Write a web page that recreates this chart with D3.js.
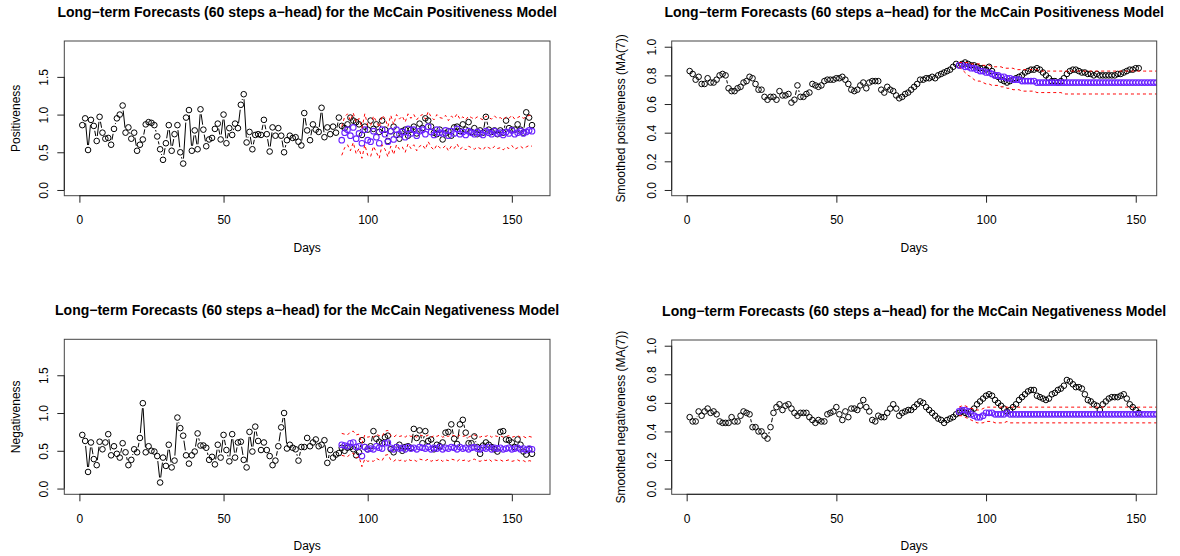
<!DOCTYPE html>
<html>
<head>
<meta charset="utf-8">
<script src="https://cdn.jsdelivr.net/npm/d3@7"></script>
<style>
  html, body { margin: 0; padding: 0; background: #fff; }
  svg { display: block; font-family: "Liberation Sans", Arial, Helvetica, sans-serif; }
</style>
</head>
<body>
<div id="chart"></div>
<script>
// ---- data ----
const posObs = [
  0.86,0.95,0.53,0.93,0.85,0.65,0.97,0.76,0.68,0.69,
  0.60,0.81,0.95,1.00,1.12,0.76,0.83,0.68,0.76,0.52,
  0.60,0.67,0.87,0.90,0.89,0.86,0.71,0.54,0.40,0.62,
  0.86,0.52,0.74,0.86,0.50,0.35,0.96,1.06,0.52,0.79,
  0.54,1.07,0.80,0.58,0.67,0.69,0.81,0.88,0.67,1.00,
  0.62,0.82,0.73,0.88,0.82,1.13,1.27,0.63,0.77,0.54,
  0.73,0.74,0.73,0.93,0.74,0.51,0.83,0.72,0.82,0.72,
  0.50,0.66,0.72,0.69,0.70,0.64,0.59,1.02,0.79,0.66,
  0.87,0.80,0.77,1.09,0.70,0.83,0.74,0.84,0.76,0.96,
  0.85,0.82,0.87,0.96,0.92,0.90,0.87,0.73,0.84,0.80,
  0.92,0.81,0.87,0.77,0.92,0.80,0.65,0.78,0.84,0.73,
  0.68,0.78,0.80,0.72,0.80,0.84,0.75,0.88,0.82,0.95,
  0.92,0.84,0.76,0.74,0.80,0.67,0.75,0.78,0.72,0.83,
  0.84,0.78,0.87,0.80,0.90,0.77,0.82,0.74,0.79,0.76,
  0.97,0.80,0.77,0.79,0.74,0.79,0.76,0.92,0.82,0.80,
  0.80,0.87,0.80,0.76,1.03,0.96,0.86
];
const posFc = [
  0.66,0.76,0.80,0.72,0.83,0.68,0.75,0.62,0.80,0.66,
  0.64,0.78,0.70,0.62,0.80,0.74,0.64,0.78,0.67,0.80,
  0.74,0.77,0.70,0.81,0.75,0.80,0.72,0.78,0.80,0.74,
  0.84,0.77,0.73,0.80,0.76,0.75,0.79,0.72,0.78,0.75,
  0.81,0.74,0.77,0.73,0.78,0.76,0.74,0.77,0.75,0.73,
  0.78,0.76,0.74,0.78,0.75,0.76,0.73,0.77,0.75,0.79,
  0.74,0.76,0.78,0.75,0.77,0.79,0.78
];
const posUp = [
  0.84,0.97,1.01,0.92,1.02,0.90,0.95,0.82,1.01,0.86,
  0.85,0.98,0.91,0.83,0.99,0.95,0.84,0.99,0.87,1.00,
  0.94,0.98,0.90,1.01,0.95,1.00,0.93,0.98,1.00,0.94,
  1.04,0.97,0.93,1.00,0.96,0.95,0.99,0.92,0.98,0.95,
  1.01,0.94,0.97,0.93,0.98,0.96,0.94,0.97,0.95,0.93,
  0.98,0.96,0.94,0.98,0.95,0.96,0.93,0.97,0.95,0.99,
  0.94,0.96,0.98,0.95,0.97,0.99,0.98
];
const posLo = [
  0.46,0.56,0.60,0.52,0.63,0.48,0.55,0.42,0.60,0.46,
  0.44,0.58,0.50,0.42,0.60,0.54,0.44,0.58,0.47,0.60,
  0.54,0.57,0.50,0.61,0.55,0.60,0.52,0.58,0.60,0.54,
  0.64,0.57,0.53,0.60,0.56,0.55,0.59,0.52,0.58,0.55,
  0.61,0.54,0.57,0.53,0.58,0.56,0.54,0.57,0.55,0.53,
  0.58,0.56,0.54,0.58,0.55,0.56,0.53,0.57,0.55,0.59,
  0.54,0.56,0.58,0.55,0.57,0.59,0.58
];

const negObs = [
  0.71,0.63,0.22,0.61,0.39,0.31,0.62,0.52,0.61,0.72,
  0.44,0.56,0.46,0.41,0.60,0.48,0.31,0.38,0.52,0.48,
  0.67,1.13,0.48,0.56,0.50,0.49,0.43,0.08,0.41,0.30,
  0.58,0.28,0.37,0.94,0.80,0.70,0.44,0.33,0.44,0.49,
  0.73,0.57,0.57,0.54,0.38,0.42,0.32,0.58,0.41,0.71,
  0.51,0.36,0.72,0.41,0.61,0.62,0.38,0.28,0.75,0.49,
  0.82,0.63,0.51,0.61,0.51,0.43,0.31,0.37,0.56,0.81,
  1.00,0.53,0.58,0.54,0.52,0.37,0.55,0.55,0.67,0.56,
  0.61,0.65,0.56,0.58,0.64,0.34,0.51,0.41,0.45,0.47,
  0.54,0.50,0.54,0.55,0.52,0.44,0.48,0.64,0.55,0.52,
  0.56,0.76,0.66,0.62,0.60,0.68,0.70,0.52,0.48,0.55,
  0.58,0.50,0.55,0.56,0.54,0.79,0.67,0.77,0.60,0.76,
  0.63,0.65,0.52,0.58,0.56,0.61,0.74,0.75,0.85,0.66,
  0.59,0.85,0.91,0.74,0.60,0.60,0.69,0.55,0.46,0.57,
  0.61,0.58,0.55,0.52,0.49,0.75,0.76,0.65,0.64,0.61,
  0.55,0.65,0.58,0.49,0.45,0.52,0.46
];
const negFc = [
  0.58,0.57,0.56,0.60,0.61,0.55,0.56,0.43,0.55,0.52,
  0.53,0.52,0.56,0.54,0.53,0.60,0.61,0.54,0.52,0.55,
  0.53,0.54,0.52,0.55,0.53,0.54,0.52,0.55,0.54,0.53,
  0.55,0.52,0.54,0.53,0.55,0.52,0.54,0.53,0.55,0.54,
  0.52,0.55,0.53,0.54,0.52,0.54,0.55,0.53,0.52,0.54,
  0.53,0.55,0.52,0.54,0.53,0.54,0.52,0.53,0.54,0.52,
  0.53,0.54,0.52,0.53,0.51,0.53,0.52
];
const negUp = [
  0.73,0.72,0.71,0.75,0.76,0.71,0.72,0.60,0.71,0.68,
  0.69,0.68,0.72,0.70,0.69,0.76,0.77,0.70,0.68,0.71,
  0.69,0.70,0.68,0.71,0.69,0.70,0.68,0.71,0.70,0.69,
  0.71,0.68,0.70,0.69,0.71,0.68,0.70,0.69,0.71,0.70,
  0.68,0.71,0.69,0.70,0.68,0.70,0.71,0.69,0.68,0.70,
  0.69,0.71,0.68,0.70,0.69,0.70,0.68,0.69,0.70,0.68,
  0.69,0.70,0.68,0.69,0.67,0.69,0.68
];
const negLo = [
  0.44,0.43,0.42,0.46,0.47,0.41,0.42,0.29,0.39,0.36,
  0.37,0.36,0.40,0.38,0.37,0.44,0.45,0.38,0.36,0.39,
  0.37,0.38,0.36,0.39,0.37,0.38,0.36,0.39,0.38,0.37,
  0.39,0.36,0.38,0.37,0.39,0.36,0.38,0.37,0.39,0.38,
  0.36,0.39,0.37,0.38,0.36,0.38,0.39,0.37,0.36,0.38,
  0.37,0.39,0.36,0.38,0.37,0.38,0.36,0.37,0.38,0.36,
  0.37,0.38,0.36,0.37,0.35,0.37,0.36
];

const posSmooth = [
  0.83,0.81,0.77,0.79,0.74,0.74,0.78,0.75,0.75,0.77,
  0.80,0.81,0.80,0.71,0.69,0.69,0.71,0.72,0.75,0.76,
  0.79,0.78,0.74,0.70,0.70,0.65,0.63,0.65,0.65,0.63,
  0.69,0.66,0.66,0.67,0.61,0.63,0.73,0.65,0.65,0.67,
  0.68,0.74,0.73,0.72,0.73,0.76,0.77,0.77,0.77,0.78,
  0.78,0.79,0.77,0.74,0.70,0.69,0.70,0.73,0.75,0.71,
  0.75,0.76,0.76,0.76,0.70,0.68,0.72,0.70,0.69,0.66,
  0.64,0.65,0.67,0.68,0.70,0.72,0.74,0.77,0.77,0.78,
  0.78,0.79,0.78,0.80,0.81,0.82,0.83,0.84,0.86,0.88,
  0.87,0.88,0.89,0.88,0.87,0.87,0.86,0.85,0.85,0.84,
  0.86,0.83,0.80,0.79,0.77,0.76,0.75,0.76,0.77,0.78,
  0.79,0.80,0.82,0.83,0.84,0.84,0.85,0.84,0.82,0.80,
  0.78,0.76,0.76,0.75,0.76,0.78,0.81,0.83,0.84,0.84,
  0.83,0.82,0.82,0.81,0.81,0.80,0.81,0.80,0.80,0.80,
  0.80,0.80,0.80,0.81,0.81,0.82,0.83,0.84,0.84,0.85,
  0.85
];
const posSmFc = [
  0.87,0.87,0.86,0.86,0.85,0.85,0.84,0.83,0.83,0.82,
  0.82,0.81,0.80,0.80,0.79,0.79,0.78,0.78,0.77,0.77,
  0.77,0.76,0.76,0.76,0.76,0.76,0.75,0.75,0.75,0.75,
  0.75,0.75,0.75,0.75,0.75,0.75,0.75,0.75,0.75,0.75,
  0.75,0.75,0.75,0.75,0.75,0.75,0.75,0.75,0.75,0.75,
  0.75,0.75,0.75,0.75,0.75,0.75,0.75,0.75,0.75,0.75,
  0.75,0.75,0.75,0.75,0.75,0.75,0.75
];
const posSmUp = [
  0.89,0.89,0.89,0.89,0.88,0.88,0.88,0.88,0.87,0.87,
  0.87,0.86,0.86,0.86,0.86,0.85,0.85,0.85,0.85,0.84,
  0.84,0.84,0.84,0.84,0.84,0.84,0.84,0.83,0.83,0.83,
  0.83,0.83,0.83,0.83,0.83,0.83,0.83,0.83,0.83,0.83,
  0.83,0.83,0.83,0.83,0.83,0.83,0.83,0.83,0.83,0.83,
  0.83,0.83,0.83,0.83,0.83,0.83,0.83,0.83,0.83,0.83,
  0.83,0.83,0.83,0.83,0.83,0.83,0.83
];
const posSmLo = [
  0.86,0.84,0.82,0.80,0.79,0.77,0.76,0.76,0.75,0.74,
  0.74,0.73,0.73,0.73,0.72,0.72,0.71,0.71,0.70,0.70,
  0.70,0.69,0.69,0.69,0.69,0.69,0.68,0.68,0.68,0.68,
  0.68,0.68,0.68,0.68,0.68,0.67,0.67,0.67,0.67,0.67,
  0.67,0.67,0.67,0.67,0.67,0.67,0.67,0.67,0.67,0.67,
  0.67,0.67,0.67,0.67,0.67,0.67,0.67,0.67,0.67,0.67,
  0.67,0.67,0.67,0.67,0.67,0.67,0.67
];

const negSmooth = [
  0.50,0.47,0.47,0.54,0.51,0.54,0.56,0.53,0.54,0.52,
  0.47,0.46,0.46,0.46,0.50,0.47,0.47,0.51,0.54,0.53,
  0.52,0.43,0.43,0.40,0.40,0.37,0.35,0.43,0.53,0.57,
  0.59,0.55,0.58,0.59,0.56,0.53,0.51,0.53,0.53,0.53,
  0.50,0.48,0.46,0.48,0.47,0.47,0.52,0.53,0.54,0.57,
  0.52,0.48,0.54,0.50,0.56,0.56,0.55,0.58,0.62,0.57,
  0.54,0.48,0.47,0.51,0.50,0.50,0.53,0.56,0.59,0.56,
  0.51,0.53,0.54,0.55,0.55,0.57,0.59,0.61,0.60,0.57,
  0.55,0.53,0.51,0.49,0.48,0.46,0.48,0.49,0.50,0.52,
  0.53,0.54,0.53,0.52,0.54,0.56,0.59,0.61,0.63,0.65,
  0.66,0.65,0.62,0.60,0.58,0.56,0.54,0.55,0.57,0.59,
  0.62,0.64,0.66,0.68,0.69,0.69,0.65,0.64,0.63,0.62,
  0.63,0.66,0.67,0.69,0.70,0.72,0.76,0.75,0.73,0.71,
  0.71,0.70,0.66,0.62,0.61,0.59,0.58,0.55,0.59,0.61,
  0.63,0.64,0.64,0.64,0.65,0.66,0.63,0.59,0.57,0.55,
  0.53
];
const negSmFc = [
  0.54,0.55,0.55,0.54,0.52,0.51,0.50,0.50,0.51,0.53,
  0.53,0.53,0.52,0.52,0.52,0.52,0.53,0.52,0.52,0.52,
  0.52,0.52,0.52,0.52,0.52,0.52,0.52,0.52,0.52,0.52,
  0.52,0.52,0.52,0.52,0.52,0.52,0.52,0.52,0.52,0.52,
  0.52,0.52,0.52,0.52,0.52,0.52,0.52,0.52,0.52,0.52,
  0.52,0.52,0.52,0.52,0.52,0.52,0.52,0.52,0.52,0.52,
  0.52,0.52,0.52,0.52,0.52,0.52,0.52
];
const negSmUp = [
  0.57,0.58,0.58,0.57,0.56,0.56,0.55,0.55,0.56,0.57,
  0.57,0.57,0.57,0.57,0.57,0.57,0.57,0.57,0.57,0.57,
  0.57,0.57,0.57,0.57,0.57,0.57,0.57,0.57,0.57,0.57,
  0.57,0.57,0.57,0.57,0.57,0.57,0.57,0.57,0.57,0.57,
  0.57,0.57,0.57,0.57,0.57,0.57,0.57,0.57,0.57,0.57,
  0.57,0.57,0.57,0.57,0.57,0.57,0.57,0.57,0.57,0.57,
  0.57,0.57,0.57,0.57,0.57,0.57,0.57
];
const negSmLo = [
  0.51,0.51,0.50,0.49,0.48,0.47,0.46,0.46,0.46,0.47,
  0.47,0.47,0.46,0.46,0.46,0.46,0.47,0.46,0.46,0.46,
  0.46,0.46,0.46,0.46,0.46,0.46,0.46,0.46,0.46,0.46,
  0.46,0.46,0.46,0.46,0.46,0.46,0.46,0.46,0.46,0.46,
  0.46,0.46,0.46,0.46,0.46,0.46,0.46,0.46,0.46,0.46,
  0.46,0.46,0.46,0.46,0.46,0.46,0.46,0.46,0.46,0.46,
  0.46,0.46,0.46,0.46,0.46,0.46,0.46
];

const fcStart = 91;               // first forecast day
const xTicks = [0, 50, 100, 150];
const yTicksRaw = [0, 0.5, 1.0, 1.5];
const yTicksSmooth = [0, 0.2, 0.4, 0.6, 0.8, 1.0];

const titlePos = "Long\u2212term Forecasts (60 steps a\u2212head) for the McCain Positiveness Model";
const titleNeg = "Long\u2212term Forecasts (60 steps a\u2212head) for the McCain Negativeness Model";

// =========================
// SETUP
// =========================
const width = 1180, height = 556;
const svg = d3.select("#chart").append("svg")
  .attr("width", width)
  .attr("height", height);

const PURPLE = "#6a22ff";
const RED = "#ff0000";
const R = 2.8;     // circle radius
const GAP = 5;     // line gap for type="b"

const panels = [
  { id: "p1", title: titlePos, ylab: "Positiveness", obs: posObs, fc: posFc, up: posUp, lo: posLo,
    box: { x0: 64.3, x1: 550, y0: 41, y1: 195.7 }, ylim: [0, 1.9], yTicks: yTicksRaw, ylabX: 20 },
  { id: "p2", title: titlePos, ylab: "Smoothed positiveness (MA(7))", obs: posSmooth, fc: posSmFc, up: posSmUp, lo: posSmLo,
    box: { x0: 671.7, x1: 1156.7, y0: 41, y1: 195.7 }, ylim: [0, 1], yTicks: yTicksSmooth, ylabX: 624.5 },
  { id: "p3", title: titleNeg, ylab: "Negativeness", obs: negObs, fc: negFc, up: negUp, lo: negLo,
    box: { x0: 64.3, x1: 550, y0: 339.3, y1: 494.3 }, ylim: [0, 1.9], yTicks: yTicksRaw, ylabX: 20 },
  { id: "p4", title: titleNeg, ylab: "Smoothed negativeness (MA(7))", obs: negSmooth, fc: negSmFc, up: negSmUp, lo: negSmLo,
    box: { x0: 671.7, x1: 1156.7, y0: 340, y1: 494.3 }, ylim: [0, 1], yTicks: yTicksSmooth, ylabX: 624.5 }
];

// R style 4% range extension
const extend = ([a, b]) => [a - 0.04 * (b - a), b + 0.04 * (b - a)];

// lines between points with gaps round each point (R type = "b")
function gappedPath(pts, gap) {
  const p = d3.path();
  for (let i = 1; i < pts.length; i++) {
    const [x1, y1] = pts[i - 1], [x2, y2] = pts[i];
    const dx = x2 - x1, dy = y2 - y1;
    const len = Math.hypot(dx, dy);
    if (len <= 2 * gap) continue;
    const ux = dx / len, uy = dy / len;
    p.moveTo(x1 + ux * gap, y1 + uy * gap);
    p.lineTo(x2 - ux * gap, y2 - uy * gap);
  }
  return p.toString();
}

panels.forEach(pn => {
  const b = pn.box;
  const obsDays = d3.range(1, pn.obs.length + 1);
  const fcDays = d3.range(fcStart, fcStart + pn.fc.length);

  const x = d3.scaleLinear().domain(extend([1, pn.obs.length])).range([b.x0, b.x1]);
  const y = d3.scaleLinear().domain(extend(pn.ylim)).range([b.y1, b.y0]);

  const g = svg.append("g");

  g.append("clipPath").attr("id", "clip-" + pn.id)
    .append("rect")
    .attr("x", b.x0).attr("y", b.y0)
    .attr("width", b.x1 - b.x0).attr("height", b.y1 - b.y0);

  const plot = g.append("g").attr("clip-path", `url(#clip-${pn.id})`);

  // observed series (points + gapped lines)
  const obsPts = pn.obs.map((v, i) => [x(obsDays[i]), y(v)]);
  plot.append("path")
    .attr("d", gappedPath(obsPts, GAP))
    .attr("fill", "none")
    .attr("stroke", "#000")
    .attr("stroke-width", 1);

  plot.selectAll("circle.obs")
    .data(pn.obs)
    .join("circle")
    .attr("class", "obs")
    .attr("cx", (d, i) => x(obsDays[i]))
    .attr("cy", d => y(d))
    .attr("r", R)
    .attr("fill", "none")
    .attr("stroke", "#000")
    .attr("stroke-width", 1);

  // forecasts
  plot.selectAll("circle.fc")
    .data(pn.fc)
    .join("circle")
    .attr("class", "fc")
    .attr("cx", (d, i) => x(fcDays[i]))
    .attr("cy", d => y(d))
    .attr("r", R)
    .attr("fill", "none")
    .attr("stroke", PURPLE)
    .attr("stroke-width", 1.1);

  // bounds
  const line = d3.line().x((d, i) => x(fcDays[i])).y(d => y(d));
  [pn.up, pn.lo].forEach(s => {
    plot.append("path")
      .attr("d", line(s))
      .attr("fill", "none")
      .attr("stroke", RED)
      .attr("stroke-width", 1)
      .attr("stroke-dasharray", "3,3");
  });

  // box
  g.append("rect")
    .attr("x", b.x0).attr("y", b.y0)
    .attr("width", b.x1 - b.x0).attr("height", b.y1 - b.y0)
    .attr("fill", "none")
    .attr("stroke", "#444")
    .attr("stroke-width", 1);

  // x axis
  const xAxis = d3.axisBottom(x)
    .tickValues(xTicks)
    .tickSize(7)
    .tickPadding(12.8)
    .tickFormat(d3.format("d"));

  g.append("g")
    .attr("transform", `translate(0,${b.y1})`)
    .call(xAxis)
    .call(a => a.select(".domain").remove())
    .call(a => a.append("line")
      .attr("x1", x(xTicks[0])).attr("x2", x(xTicks[xTicks.length - 1]))
      .attr("stroke", "#222"))
    .call(a => a.selectAll(".tick line").attr("stroke", "#222"))
    .attr("font-size", 12)
    .attr("font-family", null)
    .selectAll("text").attr("fill", "#000");

  // y axis
  const yAxis = d3.axisLeft(y)
    .tickValues(pn.yTicks)
    .tickSize(7)
    .tickFormat(d3.format(".1f"));

  g.append("g")
    .attr("transform", `translate(${b.x0},0)`)
    .call(yAxis)
    .call(a => a.select(".domain").remove())
    .call(a => a.append("line")
      .attr("y1", y(pn.yTicks[0])).attr("y2", y(pn.yTicks[pn.yTicks.length - 1]))
      .attr("stroke", "#222"))
    .call(a => a.selectAll(".tick line").attr("stroke", "#222"))
    .attr("font-size", 12)
    .attr("font-family", null)
    .selectAll("text")
    .attr("x", null)
    .attr("dy", null)
    .attr("fill", "#000")
    .attr("text-anchor", "middle")
    .attr("transform", "translate(-16,0) rotate(-90)");

  // title
  g.append("text")
    .attr("x", (b.x0 + b.x1) / 2)
    .attr("y", b.y0 - 24)
    .attr("text-anchor", "middle")
    .style("font-size", "14px")
    .style("font-weight", "bold")
    .text(pn.title);

  // x label
  g.append("text")
    .attr("x", (b.x0 + b.x1) / 2)
    .attr("y", b.y1 + 56)
    .attr("text-anchor", "middle")
    .style("font-size", "12px")
    .text("Days");

  // y label
  g.append("text")
    .attr("transform", `translate(${pn.ylabX},${(b.y0 + b.y1) / 2}) rotate(-90)`)
    .attr("text-anchor", "middle")
    .style("font-size", "12px")
    .text(pn.ylab);
});
</script>
</body>
</html>
